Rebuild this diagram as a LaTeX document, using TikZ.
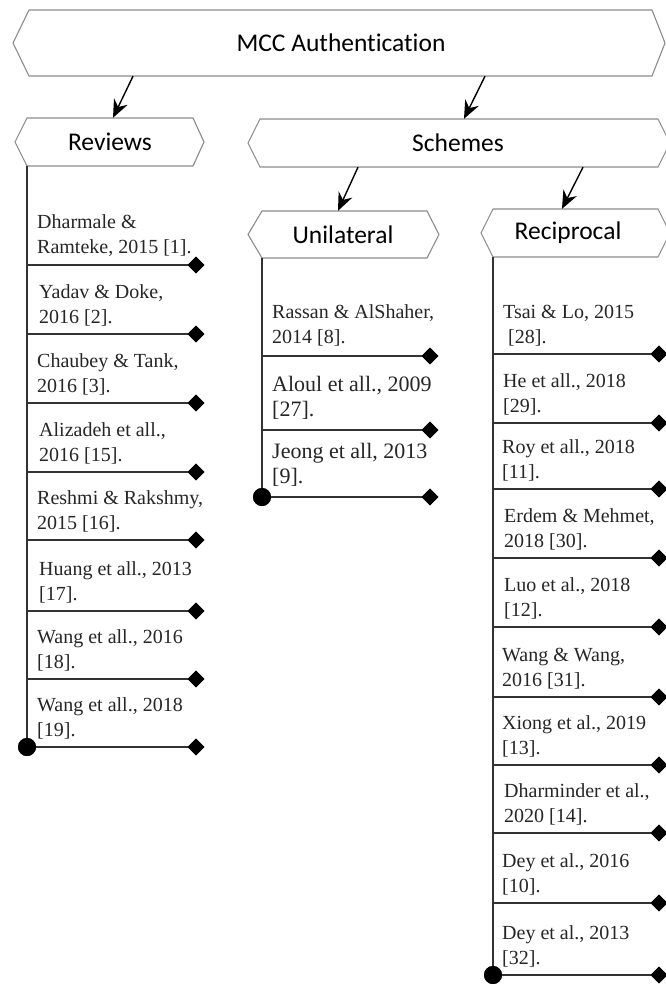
\documentclass[tikz,border=0pt]{standalone}
\usepackage{fontspec}
\setmainfont{Liberation Serif}
\newfontfamily\headfont[Ligatures=NoCommon]{Carlito}
\usetikzlibrary{shapes.geometric,arrows.meta}
\begin{document}
\begin{tikzpicture}[
  hexline/.style={draw=black!45, line width=1.1pt, fill=white},
  headtext/.style={font=\headfont\fontsize{25.5}{30}\selectfont, inner sep=0pt, text=black},
  arr/.style={draw=black, line width=1.4pt, -{Stealth[length=18pt,width=15pt,inset=6pt]}},
  colline/.style={draw=black!80, line width=1.6pt},
  rulel/.style={draw=black!80, line width=1.4pt},
  dia/.style={diamond, fill=black, inner sep=0pt, minimum size=17pt},
  enddot/.style={circle, fill=black, inner sep=0pt, minimum size=18pt},
  entry/.style={anchor=south west, align=left, inner sep=0pt, font=\fontsize{20}{25}\selectfont, text=black!85},
  bigentry/.style={entry, font=\fontsize{22}{25}\selectfont},
  x=1pt, y=-1pt
]
\useasboundingbox (0,0) rectangle (665,986);
\fill[white] (0,0) rectangle (665,986);

% ---- heading shapes ----
\draw[hexline] (13,43) -- (29,10) -- (652,10) -- (665,43) -- (652,76) -- (29,76) -- cycle;
\draw[hexline] (15,142) -- (27,118) -- (193,118) -- (204,142) -- (193,166) -- (27,166) -- cycle;
\draw[hexline] (248,143) -- (260,119) -- (658,119) -- (670,143) -- (658,167) -- (260,167) -- cycle;
\draw[hexline] (248,234.5) -- (262,211) -- (427,211) -- (439,234.5) -- (427,258) -- (262,258) -- cycle;
\draw[hexline] (481,233) -- (493,209) -- (658,209) -- (670,233) -- (658,257) -- (493,257) -- cycle;

\node[headtext, minimum height=66pt] (mcc) at (341,43) {MCC Authentication};
\node[headtext, minimum height=48pt] (rev) at (110,142) {Reviews};
\node[headtext, minimum height=48pt] (sch) at (458,143) {Schemes};
\node[headtext, minimum height=47pt] (uni) at (343,234.5) {Unilateral};
\node[headtext, minimum height=48pt] (rec) at (568,233) {Reciprocal};

% ---- arrows ----
\draw[arr] ([xshift=-208pt]mcc.south) -- ([xshift=3pt]rev.north);
\draw[arr] ([xshift=144pt]mcc.south) -- ([xshift=6pt]sch.north);
\draw[arr] ([xshift=-100pt]sch.south) -- ([xshift=-5pt]uni.north);
\draw[arr] ([xshift=125pt]sch.south) -- ([xshift=-6pt]rec.north);

% ---- column anchors ----
\coordinate (revtop) at (27,166);
\coordinate (unitop) at (262,258);
\coordinate (rectop) at (493,257);
\node[enddot] (revdot) at (27,747) {};
\node[enddot] (unidot) at (262,497) {};
\node[enddot] (recdot) at (493,975) {};

% ---- Reviews column ----
\node[dia] (rd1) at (196,265) {};
\node[dia] (rd2) at (196,334) {};
\node[dia] (rd3) at (196,403) {};
\node[dia] (rd4) at (196,472) {};
\node[dia] (rd5) at (196,540) {};
\node[dia] (rd6) at (196,611) {};
\node[dia] (rd7) at (196,679) {};
\node[dia] (rd8) at (196,747) {};
\draw[colline] (revtop) -- (revdot.center);
\foreach \n in {1,...,8} {\draw[rulel] (revdot.center |- rd\n) -- (rd\n.center);}
\node[enddot] at (revdot) {};
\foreach \n in {1,...,8} {\node[dia] at (rd\n) {};}

\node[entry] (rt1) at (37,257) {Dharmale \&\\Ramteke, 2015 [1].};
\node[entry] (rt2) at (39,326) {Yadav \& Doke,\\2016 [2].};
\node[entry] (rt3) at (37,395) {Chaubey \& Tank,\\2016 [3].};
\node[entry] (rt4) at (39,464) {Alizadeh et all.,\\2016 [15].};
\node[entry] (rt5) at (37,532) {Reshmi \& Rakshmy,\\2015 [16].};
\node[entry] (rt6) at (39,603) {Huang et all., 2013\\{}[17].};
\node[entry] (rt7) at (37,671) {Wang et all., 2016\\{}[18].};
\node[entry] (rt8) at (37,739) {Wang et all., 2018\\{}[19].};

% ---- Unilateral column ----
\node[dia] (ud1) at (430,356) {};
\node[dia] (ud2) at (430,430) {};
\node[dia] (ud3) at (430,497) {};
\draw[colline] (unitop) -- (unidot.center);
\foreach \n in {1,2,3} {\draw[rulel] (unidot.center |- ud\n) -- (ud\n.center);}
\node[enddot] at (unidot) {};
\foreach \n in {1,2,3} {\node[dia] at (ud\n) {};}

\node[entry] (ut1) at (272,346) {Rassan \& AlShaher,\\2014 [8].};
\node[bigentry] (ut2) at (272,420) {Aloul et all., 2009\\{}[27].};
\node[bigentry] (ut3) at (272,487) {Jeong et all, 2013\\{}[9].};

% ---- Reciprocal column ----
\node[dia] (cd1) at (659,354) {};
\node[dia] (cd2) at (659,423) {};
\node[dia] (cd3) at (659,489) {};
\node[dia] (cd4) at (659,558) {};
\node[dia] (cd5) at (659,627) {};
\node[dia] (cd6) at (659,697) {};
\node[dia] (cd7) at (659,765) {};
\node[dia] (cd8) at (659,833) {};
\node[dia] (cd9) at (659,903) {};
\node[dia] (cd10) at (659,975) {};
\draw[colline] (rectop) -- (recdot.center);
\foreach \n in {1,...,10} {\draw[rulel] (recdot.center |- cd\n) -- (cd\n.center);}
\node[enddot] at (recdot) {};
\foreach \n in {1,...,10} {\node[dia] at (cd\n) {};}

\node[entry] (ct1) at (503,346) {Tsai \& Lo, 2015\\\hspace*{5pt}[28].};
\node[entry] (ct2) at (503,415) {He et all., 2018\\{}[29].};
\node[entry] (ct3) at (502,481) {Roy et all., 2018\\{}[11].};
\node[entry] (ct4) at (504,550) {Erdem \& Mehmet,\\2018 [30].};
\node[entry] (ct5) at (504,619) {Luo et al., 2018\\{}[12].};
\node[entry] (ct6) at (502,689) {Wang \& Wang,\\2016 [31].};
\node[entry] (ct7) at (502,757) {Xiong et al., 2019\\{}[13].};
\node[entry] (ct8) at (504,825) {Dharminder et al.,\\2020 [14].};
\node[entry] (ct9) at (502,895) {Dey et al., 2016\\{}[10].};
\node[entry] (ct10) at (502,967) {Dey et al., 2013\\{}[32].};
\end{tikzpicture}
\end{document}
